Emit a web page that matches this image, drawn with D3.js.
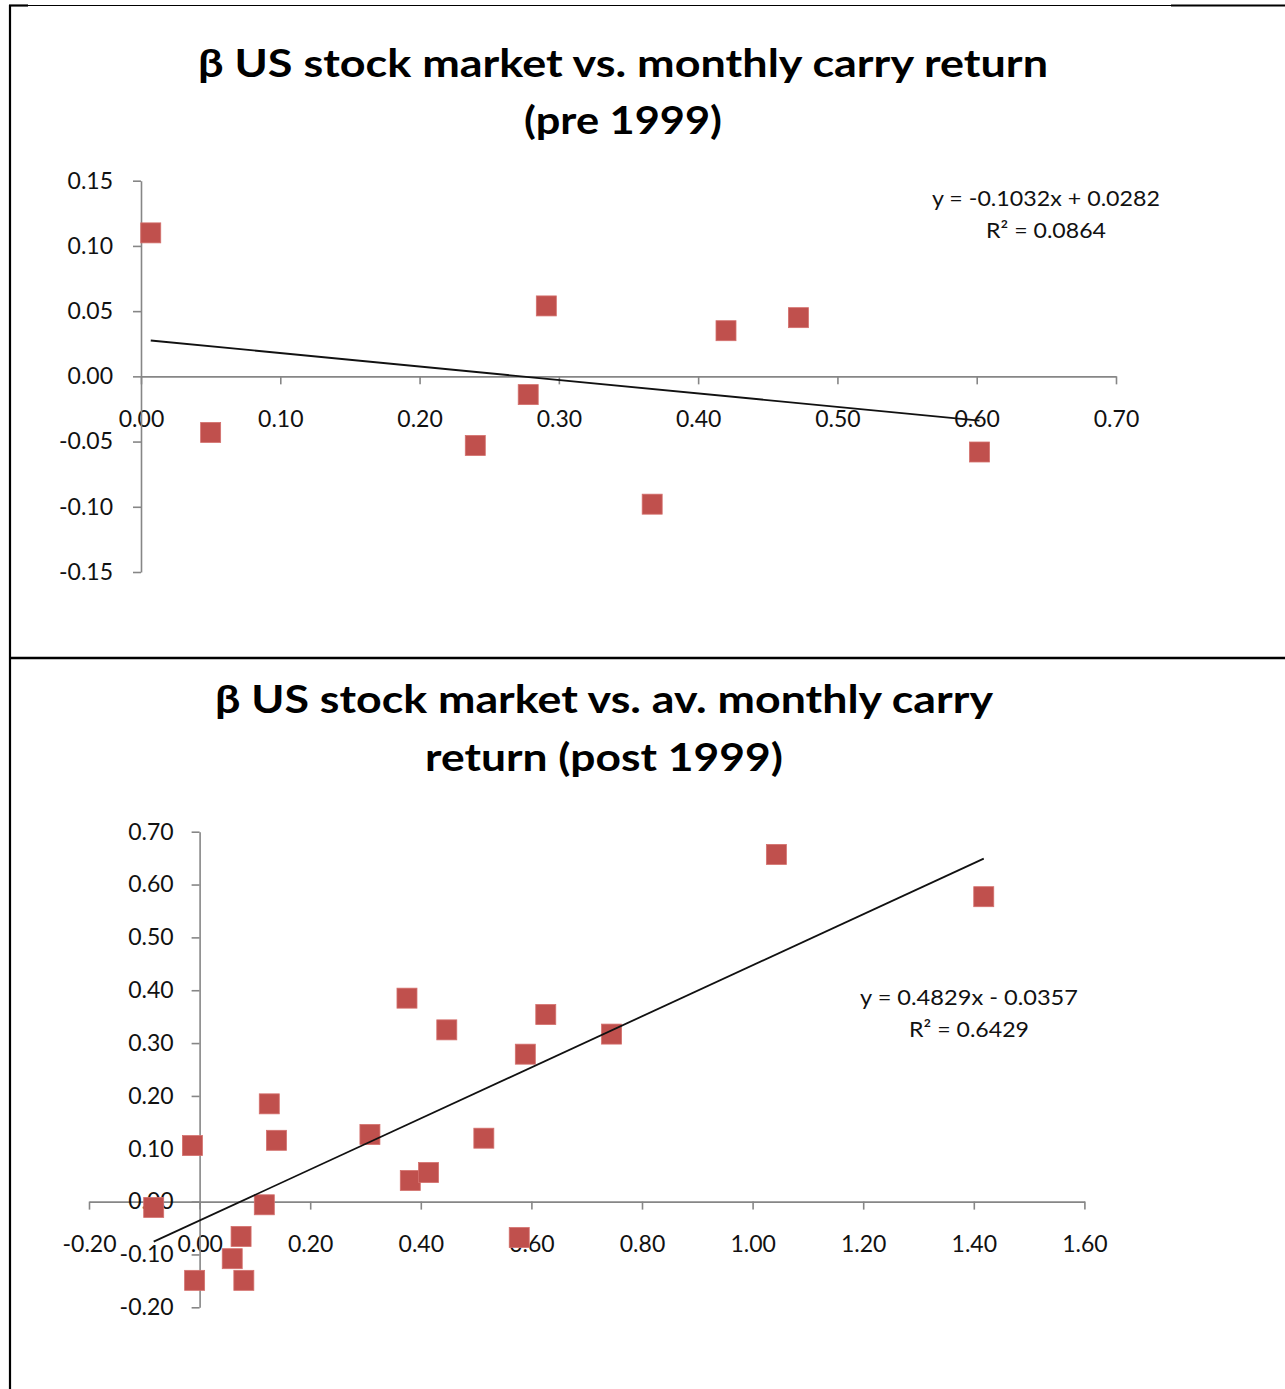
<!DOCTYPE html>
<html>
<head>
<meta charset="utf-8">
<script src="https://cdn.jsdelivr.net/npm/d3@7"></script>
<style>
    body { margin: 0; background: #fff; }
    svg { display: block; }
    .tick text { font-family: Lato, "Open Sans", sans-serif; font-size: 23px; fill: #111; }
</style>
</head>
<body>
<div id="page"></div>
<script>
// pre 1999 : beta vs monthly carry return
var preBeta = [0.007, 0.050, 0.240, 0.278, 0.291, 0.367, 0.420, 0.472, 0.602];
var preCarry = [0.110, -0.043, -0.053, -0.014, 0.054, -0.098, 0.035, 0.045, -0.058];
var preXTicks = [0.00, 0.10, 0.20, 0.30, 0.40, 0.50, 0.60, 0.70];
var preYTicks = [-0.15, -0.10, -0.05, 0.00, 0.05, 0.10, 0.15];
var preSlope = -0.1032, preIntercept = 0.0282;
var preTitle = ["β US stock market vs. monthly carry return", "(pre 1999)"];
var preEquation = ["y = -0.1032x + 0.0282", "R² = 0.0864"];

// post 1999 : beta vs av. monthly carry return
var postBeta = [-0.013, -0.083, 0.126, 0.139, 0.117, 0.075, 0.059, -0.009, 0.080, 0.308, 0.381,
    0.414, 0.514, 0.578, 0.375, 0.447, 0.589, 0.626, 0.745, 1.043, 1.418];
var postCarry = [0.106, -0.011, 0.185, 0.116, -0.006, -0.066, -0.108, -0.149, -0.149, 0.127, 0.040,
    0.055, 0.120, -0.068, 0.385, 0.325, 0.279, 0.354, 0.317, 0.657, 0.577];
var postXTicks = [-0.20, 0.00, 0.20, 0.40, 0.60, 0.80, 1.00, 1.20, 1.40, 1.60];
var postYTicks = [-0.20, -0.10, 0.00, 0.10, 0.20, 0.30, 0.40, 0.50, 0.60, 0.70];
var postSlope = 0.4829, postIntercept = -0.0357;
var postTitle = ["β US stock market vs. av. monthly carry", "return (post 1999)"];
var postEquation = ["y = 0.4829x - 0.0357", "R² = 0.6429"];

var width = 1285, height = 1389;
var svg = d3.select("#page").append("svg")
    .attr("width", width)
    .attr("height", height);

svg.append("rect").attr("width", width).attr("height", height).attr("fill", "#fff");

// table borders around the two pictures
svg.append("line").attr("x1", 9).attr("x2", 1171).attr("y1", 5.5).attr("y2", 5.5)
    .attr("stroke", "#000").attr("stroke-width", 1.2);
svg.append("line").attr("x1", 1171).attr("x2", 1285).attr("y1", 5.5).attr("y2", 5.5)
    .attr("stroke", "#000").attr("stroke-width", 2.2);
svg.append("line").attr("x1", 9).attr("x2", 28).attr("y1", 5.5).attr("y2", 5.5)
    .attr("stroke", "#000").attr("stroke-width", 2.2);
svg.append("line").attr("x1", 10).attr("x2", 10).attr("y1", 5).attr("y2", height)
    .attr("stroke", "#000").attr("stroke-width", 2.2);
svg.append("line").attr("x1", 10).attr("x2", width).attr("y1", 658).attr("y2", 658)
    .attr("stroke", "#000").attr("stroke-width", 2.4);

function drawScatter(cfg) {
    var g = svg.append("g");

    var x = d3.scaleLinear().domain(d3.extent(cfg.xTicks)).range(cfg.xRange);
    var y = d3.scaleLinear().domain(d3.extent(cfg.yTicks)).range(cfg.yRange);
    var fmt = function (d) { return d.toFixed(2); };

    // title, two centred lines
    cfg.title.forEach(function (t, i) {
        g.append("text")
            .attr("x", cfg.titleX)
            .attr("y", cfg.titleY[i])
            .attr("text-anchor", "middle")
            .attr("font-family", "Lato, 'Open Sans', sans-serif")
            .attr("font-weight", "bold")
            .attr("font-size", 39)
            .attr("textLength", cfg.titleWidth[i])
            .attr("lengthAdjust", "spacingAndGlyphs")
            .attr("fill", "#000")
            .text(t);
    });

    var xAxis = g.append("g")
        .attr("transform", "translate(0," + y(0) + ")")
        .call(d3.axisBottom(x).tickValues(cfg.xTicks).tickFormat(fmt)
            .tickSize(8).tickSizeOuter(0).tickPadding(26));
    var yAxis = g.append("g")
        .attr("transform", "translate(" + x(0) + ",0)")
        .call(d3.axisLeft(y).tickValues(cfg.yTicks).tickFormat(fmt)
            .tickSize(8).tickSizeOuter(0).tickPadding(cfg.yPad));

    g.selectAll(".domain, .tick line")
        .attr("stroke", "#868686")
        .attr("stroke-width", 1.6);

    var pts = cfg.xs.map(function (v, i) { return { x: v, y: cfg.ys[i] }; });

    g.selectAll("rect.pt").data(pts).enter()
        .append("rect")
        .attr("class", "pt")
        .attr("x", function (d) { return x(d.x) - 10; })
        .attr("y", function (d) { return y(d.y) - 10; })
        .attr("width", 20)
        .attr("height", 20)
        .attr("fill", "#c0504d")
        .attr("stroke", "#d4706d")
        .attr("stroke-width", 0.8);

    // linear trend line over the data range
    var x0 = d3.min(cfg.xs), x1 = d3.max(cfg.xs);
    g.append("line")
        .attr("x1", x(x0)).attr("y1", y(cfg.slope * x0 + cfg.intercept))
        .attr("x2", x(x1)).attr("y2", y(cfg.slope * x1 + cfg.intercept))
        .attr("stroke", "#111")
        .attr("stroke-width", 1.8);

    cfg.equation.forEach(function (t, i) {
        g.append("text")
            .attr("x", cfg.eqX)
            .attr("y", cfg.eqY[i])
            .attr("text-anchor", "middle")
            .attr("font-family", "Lato, 'Open Sans', sans-serif")
            .attr("font-size", 22)
            .attr("textLength", cfg.eqWidth[i])
            .attr("lengthAdjust", "spacingAndGlyphs")
            .attr("fill", "#111")
            .text(t);
    });
}

drawScatter({
    xs: preBeta, ys: preCarry, xTicks: preXTicks, yTicks: preYTicks,
    slope: preSlope, intercept: preIntercept,
    xRange: [141, 1116], yRange: [572, 180.7], yPad: 20,
    title: preTitle, titleX: 623, titleY: [77, 134], titleWidth: [850, 198],
    equation: preEquation, eqX: 1046, eqY: [206, 238], eqWidth: [228, 120]
});

drawScatter({
    xs: postBeta, ys: postCarry, xTicks: postXTicks, yTicks: postYTicks,
    slope: postSlope, intercept: postIntercept,
    xRange: [89, 1084.4], yRange: [1307.3, 831.7], yPad: 18,
    title: postTitle, titleX: 604, titleY: [713, 771], titleWidth: [778, 358],
    equation: postEquation, eqX: 969, eqY: [1005, 1037], eqWidth: [218, 120]
});
</script>
</body>
</html>
